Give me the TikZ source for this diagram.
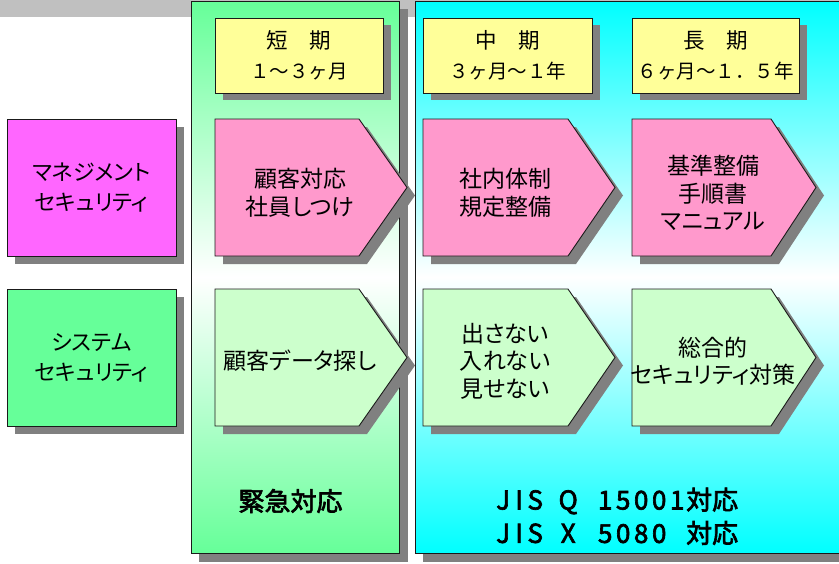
\documentclass[tikz,border=0pt]{standalone}
\usepackage{fontspec}
\setmainfont{Noto Sans CJK JP}
\newfontfamily\jpp{Noto Sans CJK JP}[RawFeature=+palt]
\newfontfamily\jpbold{Noto Sans CJK JP}[FakeBold=2.5]
\definecolor{bandc}{HTML}{C0C0C0}
\definecolor{shadowc}{HTML}{808080}
\definecolor{colgreen}{HTML}{66FF99}
\definecolor{colcyan}{HTML}{00FFFF}
\definecolor{hdrc}{HTML}{FFFF99}
\definecolor{mgmtc}{HTML}{FF66FF}
\definecolor{sysc}{HTML}{66FF99}
\definecolor{pinkc}{HTML}{FF99CC}
\definecolor{lgreenc}{HTML}{CCFFCC}
\definecolor{edgec}{HTML}{1A1A1A}
\newcommand\pentashape[6]{%
  \fill[shadowc, shift={(8,8)}] (#1,#4) -- (#2,#4) -- (#3,{(#4+#5)/2}) -- (#2,#5) -- (#1,#5) -- cycle;
  \draw[boxedge, fill=#6, line join=miter] (#1,#4) -- (#2,#4) -- (#3,{(#4+#5)/2}) -- (#2,#5) -- (#1,#5) -- cycle;}
\newcommand\jcell[1]{\makebox[16pt]{#1}}
\newcommand\dcell[1]{\makebox[18pt]{#1}}
\newcommand\hbig[1]{{\fontsize{21.5}{30}\selectfont #1}}
\tikzset{
  boxedge/.style={draw=edgec, line width=0.9pt},
  hdr/.style={boxedge, fill=hdrc, minimum width=168pt, minimum height=75pt, inner sep=0pt, align=center, font=\fontsize{19.5}{30}\selectfont},
  catbox/.style={boxedge, minimum width=169pt, minimum height=137pt, inner sep=0pt, align=center, font=\jpp\fontsize{22}{30}\selectfont},
  arrowtext/.style={align=center, inner sep=0pt, font=\jpp\fontsize{23}{27.5}\selectfont},
  bigbold/.style={inner sep=0pt, font=\jpbold\fontsize{26}{30}\selectfont},
}
\begin{document}
\begin{tikzpicture}[x=1pt, y=-1pt]
\useasboundingbox (0,0) rectangle (839,563);
\fill[white] (0,0) rectangle (839,563);
\fill[bandc] (0,0) rectangle (839,17);
% columns
\fill[shadowc] (199,9) rectangle (408,562);
\draw[boxedge, top color=colgreen, bottom color=colgreen, middle color=white] (191,1) rectangle (399,553);
\fill[shadowc] (423,9) rectangle (860,562);
\draw[boxedge, top color=colcyan, bottom color=colcyan, middle color=white] (415,1) rectangle (850,553);
% headers
\fill[shadowc] (223,25) rectangle (391,100);
\node[hdr] (hshort) at (299,55.5) {\hbig{短　期}\\１～３ヶ月};
\fill[shadowc] (431,25) rectangle (600,100);
\node[hdr, minimum width=169pt] (hmid) at (507.5,55.5) {\hbig{中　期}\\３ヶ月～１年};
\fill[shadowc] (640,25) rectangle (807,100);
\node[hdr, minimum width=167pt] (hlong) at (715.5,55.5) {\hbig{長　期}\\６ヶ月～１．５年};
% categories
\fill[shadowc] (15,127) rectangle (184,264);
\node[catbox, fill=mgmtc] (mgmt) at (91.5,187.5) {マネジメント\\セキュリティ};
\fill[shadowc] (15,297) rectangle (184,434);
\node[catbox, fill=sysc] (sys) at (91.5,357.5) {システム\\セキュリティ};
% row 1
\pentashape{215}{359}{407}{119}{256}{pinkc}
\node[arrowtext] (a11) at (300,193) {顧客対応\\社員しつけ};
\pentashape{423}{568}{615}{119}{256}{pinkc}
\node[arrowtext] (a12) at (505,193) {社内体制\\規定整備};
\pentashape{632}{771}{816}{119}{256}{pinkc}
\node[arrowtext] (a13) at (713,193) {基準整備\\手順書\\マニュアル};
% row 2
\pentashape{215}{359}{407}{289}{426}{lgreenc}
\node[arrowtext] (a21) at (300,361) {顧客データ探し};
\pentashape{423}{568}{615}{289}{426}{lgreenc}
\node[arrowtext] (a22) at (505,361) {出さない\\入れない\\見せない};
\pentashape{632}{771}{816}{289}{426}{lgreenc}
\node[arrowtext] (a23) at (713,361) {総合的\\セキュリティ対策};
% bottom labels
\node[bigbold] (urgent) at (290.5,501) {緊急対応};
\node[bigbold, anchor=west] (jis1) at (495,501) {\jcell{J}\jcell{I}\jcell{S}\hspace{16pt}\dcell{Q}\hspace{19pt}\dcell{1}\dcell{5}\dcell{0}\dcell{0}\dcell{1}対応};
\node[bigbold, anchor=west] (jis2) at (495,533) {\jcell{J}\jcell{I}\jcell{S}\hspace{16pt}\dcell{X}\hspace{19pt}\dcell{5}\dcell{0}\dcell{8}\dcell{0}\hspace{18pt}対応};
\end{tikzpicture}
\end{document}
